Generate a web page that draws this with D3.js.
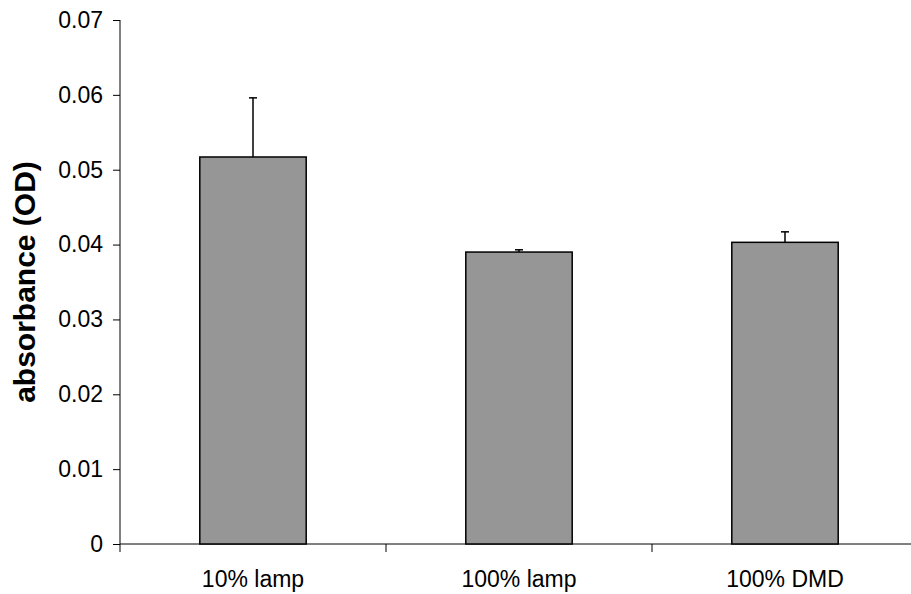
<!DOCTYPE html>
<html>
<head>
<meta charset="utf-8">
<script src="https://cdn.jsdelivr.net/npm/d3@7"></script>
<style>
  html, body { margin: 0; padding: 0; background: #fff; }
  svg { display: block; font-family: Arial, "Liberation Sans", sans-serif; }
</style>
</head>
<body>
<div id="chart"></div>
<script>
const CATEGORIES = ['10% lamp', '100% lamp', '100% DMD'];
const MEANS = [0.0517, 0.0390, 0.0403];
const ERRORS = [0.0079, 0.0003, 0.0014];
const Y_TICKS = [0, 0.01, 0.02, 0.03, 0.04, 0.05, 0.06, 0.07];

const w = 911, h = 594;
const m = { top: 20, right: -7, bottom: 50, left: 120 };
const iw = w - m.left - m.right;
const ih = h - m.top - m.bottom;

const svg = d3.select('#chart').append('svg')
  .attr('width', w).attr('height', h);

const g = svg.append('g').attr('transform', `translate(${m.left},${m.top})`);

const x = d3.scaleBand()
  .domain(CATEGORIES)
  .range([0, iw])
  .paddingInner(0.6)
  .paddingOuter(0.3);

const y = d3.scaleLinear()
  .domain([0, 0.07])
  .range([ih, 0]);

// y axis
const yAxis = g.append('g')
  .call(d3.axisLeft(y).tickValues(Y_TICKS).tickSize(7).tickPadding(10)
    .tickFormat(d => d === 0 ? '0' : d3.format('.2f')(d)));
yAxis.select('.domain').attr('d', `M0,0V${ih}`).attr('stroke', '#000');
yAxis.selectAll('.tick line').attr('stroke', '#000');
yAxis.selectAll('.tick text').attr('font-size', '23px').attr('fill', '#000');

// x axis: ticks at category boundaries
const step = x.step();
const bounds = [0, 1, 2, 3].map(i => i * iw / 3);
const xAxis = g.append('g').attr('transform', `translate(0,${ih})`);
xAxis.append('line')
  .attr('x1', 0).attr('x2', iw).attr('stroke', '#000');
xAxis.selectAll('.xtick')
  .data(bounds)
  .join('line')
  .attr('x1', d => d).attr('x2', d => d)
  .attr('y1', 0).attr('y2', 8)
  .attr('stroke', '#000');
xAxis.selectAll('.xlabel')
  .data(CATEGORIES)
  .join('text')
  .attr('x', d => x(d) + x.bandwidth() / 2)
  .attr('y', 43)
  .attr('text-anchor', 'middle')
  .attr('font-size', '23px')
  .attr('fill', '#000')
  .text(d => d);

// error bars (upper only)
const eb = g.selectAll('.err')
  .data(CATEGORIES)
  .join('g');
eb.append('line')
  .attr('x1', d => x(d) + x.bandwidth() / 2)
  .attr('x2', d => x(d) + x.bandwidth() / 2)
  .attr('y1', (d, i) => y(MEANS[i]))
  .attr('y2', (d, i) => y(MEANS[i] + ERRORS[i]))
  .attr('stroke', '#000').attr('stroke-width', 1.5);
eb.append('line')
  .attr('x1', d => x(d) + x.bandwidth() / 2 - 4)
  .attr('x2', d => x(d) + x.bandwidth() / 2 + 4)
  .attr('y1', (d, i) => y(MEANS[i] + ERRORS[i]))
  .attr('y2', (d, i) => y(MEANS[i] + ERRORS[i]))
  .attr('stroke', '#000').attr('stroke-width', 1.5);

// bars
g.selectAll('.bar')
  .data(CATEGORIES)
  .join('rect')
  .attr('x', d => x(d))
  .attr('y', (d, i) => y(MEANS[i]))
  .attr('width', x.bandwidth())
  .attr('height', (d, i) => ih - y(MEANS[i]))
  .attr('fill', '#969696')
  .attr('stroke', '#000')
  .attr('stroke-width', 1.5);

// y title
svg.append('text')
  .attr('transform', `translate(35,${m.top + ih / 2}) rotate(-90)`)
  .attr('text-anchor', 'middle')
  .attr('font-size', '30px')
  .attr('font-weight', 'bold')
  .attr('fill', '#000')
  .text('absorbance (OD)');
</script>
</body>
</html>
